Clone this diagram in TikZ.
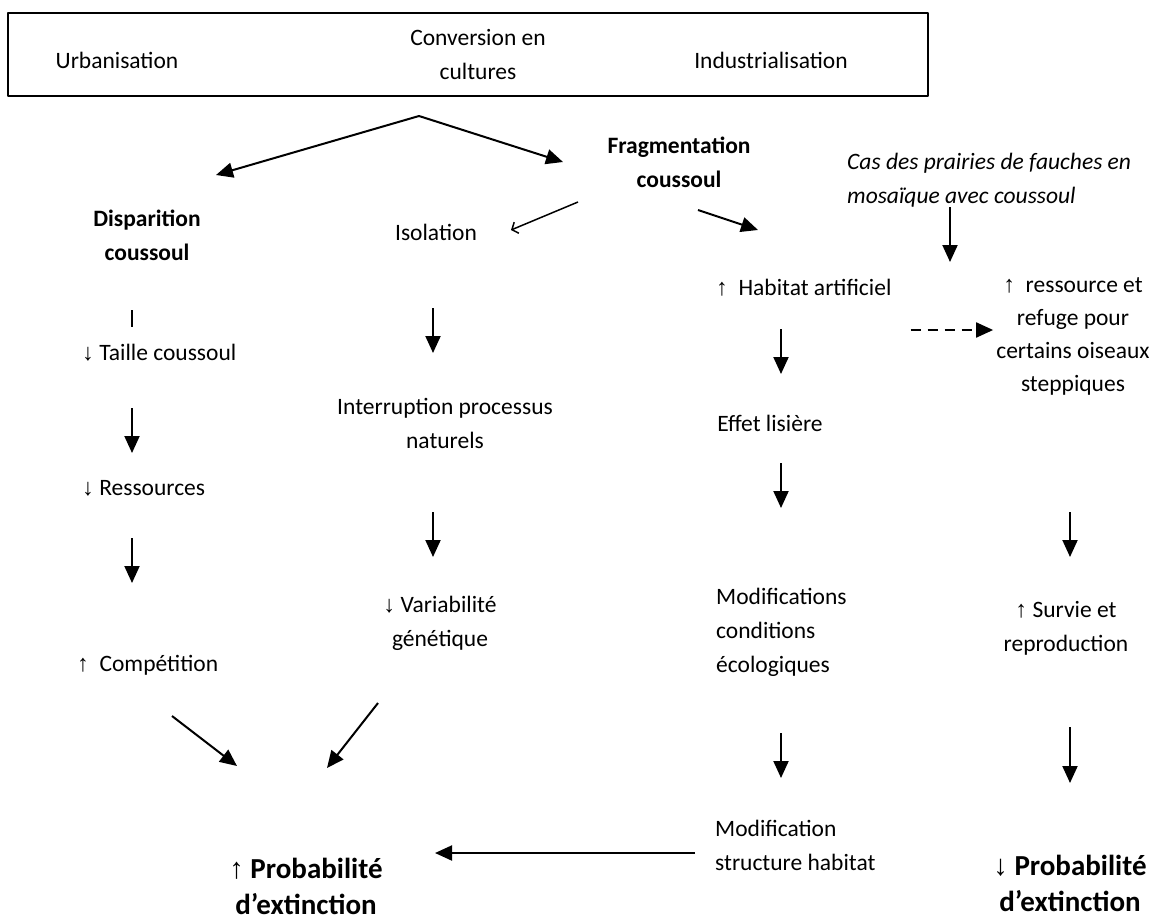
\documentclass[tikz,border=0pt]{standalone}
\usepackage{fontspec}
\setmainfont{Carlito}
\newfontfamily\arrowfont{Liberation Sans}
\usetikzlibrary{arrows.meta}
\newcommand\hausse{{\arrowfont ↑}}
\newcommand\baisse{{\arrowfont ↓}}
\begin{document}
\begin{tikzpicture}[x=1pt, y=-1pt, font=\fontsize{23.5}{34}\selectfont, line join=round, >={Triangle[length=17pt,width=15pt]},
  every node/.style={inner sep=0pt, align=center},
  arr/.style={->, line width=2pt},
  gras/.style={font=\fontsize{23.5}{34}\selectfont\bfseries},
  big/.style={font=\fontsize{29}{36}\selectfont\bfseries}]
\useasboundingbox (0,0) rectangle (1158,921);
\draw[line width=1.6pt] (8,13) rectangle (928,96);
\node (urb) at (117,60) {Urbanisation};
\node (conv) at (478,54) {Conversion en\\cultures};
\node (ind) at (771,60) {Industrialisation};
\path (419,116) coordinate (split) (132,0) coordinate (colL) (433,0) coordinate (colM) (781,0) coordinate (colR) (950,0) coordinate (colC) (1070,0) coordinate (colX) (0,330) coordinate (rowD) (0,853) coordinate (rowH);
\node[gras] (disp) at (147,235) {Disparition\\coussoul};
\node[gras] (frag) at (679,162) {Fragmentation\\coussoul};
\node[anchor=west, align=left, font=\fontsize{23.5}{34}\selectfont\itshape] (cas) at (847,180) {Cas des prairies de fauches en\\mosaïque avec coussoul};
\node (isol) at (436,232) {Isolation};
\node[anchor=west] (hab) at (716,288) {\hausse\ \ Habitat artificiel};
\node[font=\fontsize{23.5}{33}\selectfont] (res) at (1073,336) {\hausse\ \ ressource et\\refuge pour\\certains oiseaux\\steppiques};
\node[anchor=west] (taille) at (82,353) {\baisse{} Taille coussoul};
\node (interr) at (445,423) {Interruption processus\\naturels};
\node (effet) at (770,423) {Effet lisière};
\node[anchor=west] (ress) at (82,488) {\baisse{} Ressources};
\node (var) at (440,623) {\baisse{} Variabilité\\génétique};
\node[anchor=west, align=left] (modif) at (716,632) {Modifications\\conditions\\écologiques};
\node (surv) at (1066,628) {\hausse{} Survie et\\reproduction};
\node[anchor=west] (comp) at (77,665) {\hausse\ \ Compétition};
\node[anchor=west, align=left] (struct) at (715,845) {Modification\\structure habitat};
\node[big] (probU) at (306,886) {{\mdseries\hausse}~Probabilité\\d’extinction};
\node[big] (probD) at (1070,883) {{\mdseries\baisse}~Probabilité\\d’extinction};
\draw[arr] (split) -- ([shift={(69,-60)}]disp.center);
\draw[arr] (split) -- ([shift={(-116,0)}]frag.center);
\draw[line width=1.5pt, -{Straight Barb[length=5pt,width=12pt]}] ([shift={(-101,40)}]frag.center) -- ([shift={(75,-2)}]isol.center);
\draw[arr] ([shift={(19,48)}]frag.center) -- ([shift={(42,-58)}]hab.west);
\draw[line width=2.5pt, xshift=3pt, shorten <=75pt, shorten >=26pt] (disp -| colL) -- (taille -| colL);
\foreach \a/\b/\c/\s/\t in {taille/ress/colL/55/35, ress/comp/colL/50/82, isol/interr/colM/76/70, interr/var/colM/89/66, hab/effet/colR/41/49, effet/modif/colR/40/124, modif/struct/colR/101/67, cas/res/colC/27/74, res/surv/colX/176/71, surv/probD/colX/99/100}
  \draw[arr, shorten <=\s pt, shorten >=\t pt] (\a -| \c) -- (\b -| \c);
\draw[arr, dash pattern=on 10pt off 7pt, shorten <=19pt, shorten >=3pt] (hab.east |- rowD) -- (res.west |- rowD);
\draw[arr, shorten <=20pt, shorten >=129pt] (struct.west |- rowH) -- (probU |- rowH);
\draw[arr] ([shift={(95,51)}]comp.west) -- ([shift={(-69,-120)}]probU.center);
\draw[arr] ([shift={(-62,80)}]var.center) -- ([shift={(21,-118)}]probU.center);
\end{tikzpicture}
\end{document}
